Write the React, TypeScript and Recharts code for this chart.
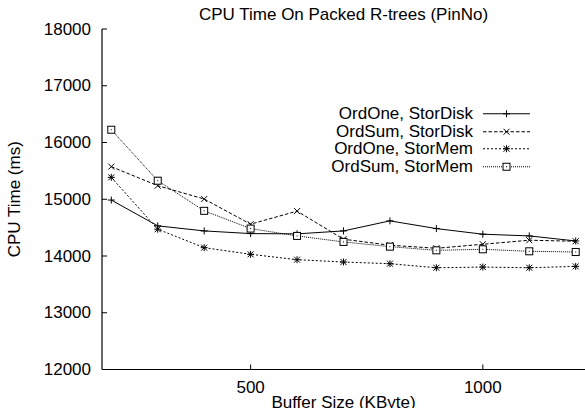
import React from 'react';
import { LineChart, Line, XAxis, YAxis, Legend } from 'recharts';

const bufferSizes = [200, 300, 400, 500, 600, 700, 800, 900, 1000, 1100, 1200];
const ordOneStorDisk = [14986, 14531, 14442, 14395, 14390, 14442, 14619, 14483, 14384, 14354, 14265];
const ordSumStorDisk = [15575, 15239, 15004, 14561, 14791, 14296, 14190, 14136, 14207, 14278, 14260];
const ordOneStorMem = [15386, 14472, 14147, 14030, 13935, 13894, 13864, 13793, 13805, 13793, 13817];
const ordSumStorMem = [16225, 15327, 14796, 14483, 14354, 14248, 14165, 14100, 14118, 14083, 14071];

const xTicks = [500, 1000];
const yTicks = [12000, 13000, 14000, 15000, 16000, 17000, 18000];
const seriesNames = ['OrdOne, StorDisk', 'OrdSum, StorDisk', 'OrdOne, StorMem', 'OrdSum, StorMem'];
const title = 'CPU Time On Packed R-trees (PinNo)';
const xLabel = 'Buffer Size (KByte)';
const yLabel = 'CPU Time (ms)';

const data = bufferSizes.map((b, i) => ({
  b,
  s0: ordOneStorDisk[i],
  s1: ordSumStorDisk[i],
  s2: ordOneStorMem[i],
  s3: ordSumStorMem[i],
}));

const FONT = '"Liberation Sans", Arial, sans-serif';
const FS = 17;
const INK = '#000';

type MarkerKind = 'plus' | 'cross' | 'star' | 'square';
const markers: MarkerKind[] = ['plus', 'cross', 'star', 'square'];
const dashes = [undefined, '3.5 2', '2 2', '1 1'];
const keys = ['s0', 's1', 's2', 's3'];

function Marker({ cx, cy, kind }: { cx: number; cy: number; kind: MarkerKind }) {
  if (cx == null || cy == null) return null;
  const sw = 1;
  if (kind === 'plus') {
    return (
      <g stroke={INK} strokeWidth={sw}>
        <line x1={cx - 3.5} x2={cx + 3.5} y1={cy} y2={cy} />
        <line x1={cx} x2={cx} y1={cy - 3.5} y2={cy + 3.5} />
      </g>
    );
  }
  if (kind === 'cross') {
    return (
      <g stroke={INK} strokeWidth={sw}>
        <line x1={cx - 3} x2={cx + 3} y1={cy - 3} y2={cy + 3} />
        <line x1={cx - 3} x2={cx + 3} y1={cy + 3} y2={cy - 3} />
      </g>
    );
  }
  if (kind === 'star') {
    return (
      <g stroke={INK} strokeWidth={sw}>
        <line x1={cx - 3.5} x2={cx + 3.5} y1={cy} y2={cy} />
        <line x1={cx} x2={cx} y1={cy - 3.5} y2={cy + 3.5} />
        <line x1={cx - 3} x2={cx + 3} y1={cy - 3} y2={cy + 3} />
        <line x1={cx - 3} x2={cx + 3} y1={cy + 3} y2={cy - 3} />
      </g>
    );
  }
  return (
    <g stroke={INK} strokeWidth={sw}>
      <rect x={cx - 3.5} y={cy - 3.5} width={7} height={7} fill="#fff" />
      <rect x={cx - 0.5} y={cy - 0.5} width={1} height={1} fill={INK} stroke="none" />
    </g>
  );
}

const LeftTick = (props: any) => {
  const { x, y, payload } = props;
  return (
    <g>
      <line x1={x} x2={x + 5} y1={y} y2={y} stroke={INK} strokeWidth={1} />
      <text x={x - 11} y={y} textAnchor="end" dominantBaseline="central" fontSize={FS} fontFamily={FONT} fill={INK}>
        {payload.value}
      </text>
    </g>
  );
};
const RightTick = (props: any) => {
  const { x, y } = props;
  return <line x1={x - 5} x2={x} y1={y} y2={y} stroke={INK} strokeWidth={1} />;
};
const BottomTick = (props: any) => {
  const { x, y, payload } = props;
  return (
    <g>
      <line x1={x} x2={x} y1={y} y2={y - 5} stroke={INK} strokeWidth={1} />
      <text x={x} y={y + 17.5} textAnchor="middle" dominantBaseline="central" fontSize={FS} fontFamily={FONT} fill={INK}>
        {payload.value}
      </text>
    </g>
  );
};
const TopTick = (props: any) => {
  const { x, y } = props;
  return <line x1={x} x2={x} y1={y} y2={y + 5} stroke={INK} strokeWidth={1} />;
};

const LegendContent = () => (
  <div style={{ position: 'absolute', left: 0, top: 105, width: 585, fontFamily: FONT, fontSize: FS, color: INK }}>
    {seriesNames.map((name, i) => (
      <div key={name} style={{ display: 'flex', alignItems: 'center', height: 17.5 }}>
        <span style={{ width: 473, textAlign: 'right', lineHeight: '17.5px', whiteSpace: 'nowrap' }}>{name}</span>
        <svg width={50} height={17.5} style={{ marginLeft: 10, display: 'block' }}>
          <line x1={0} x2={47} y1={8.75} y2={8.75} stroke={INK} strokeWidth={1} strokeDasharray={dashes[i]} />
          <Marker cx={23.5} cy={8.75} kind={markers[i]} />
        </svg>
      </div>
    ))}
  </div>
);

export default function App() {
  return (
    <div style={{ position: 'absolute', left: 0, top: 0, width: 585, height: 408, background: '#fff', overflow: 'hidden' }}>
      <div
        style={{
          position: 'absolute',
          left: 102,
          width: 483,
          top: 5,
          textAlign: 'center',
          fontFamily: FONT,
          fontSize: FS,
          color: INK,
          lineHeight: '20px',
          whiteSpace: 'nowrap',
        }}
      >
        {title}
      </div>
      <LineChart width={585} height={408} data={data} margin={{ top: 29, right: 0, bottom: 0, left: 0 }}>
        <XAxis
          dataKey="b"
          type="number"
          domain={[180, 1220]}
          ticks={xTicks}
          allowDataOverflow
          height={38.5}
          tickSize={0}
          tickMargin={0}
          tickLine={false}
          axisLine={{ stroke: INK, strokeWidth: 1.2 }}
          tick={<BottomTick />}
          label={(p: any) => {
            const vb = p.viewBox;
            return (
              <text
                x={vb.x + vb.width / 2}
                y={vb.y + 33}
                textAnchor="middle"
                dominantBaseline="central"
                fontSize={FS}
                fontFamily={FONT}
                fill={INK}
              >
                {xLabel}
              </text>
            );
          }}
        />
        <XAxis
          xAxisId="top"
          orientation="top"
          dataKey="b"
          type="number"
          domain={[180, 1220]}
          ticks={xTicks}
          allowDataOverflow
          height={0}
          tickSize={0}
          tickMargin={0}
          tickLine={false}
          axisLine={{ stroke: INK, strokeWidth: 1.2 }}
          tick={<TopTick />}
        />
        <YAxis
          type="number"
          domain={[12000, 18000]}
          ticks={yTicks}
          allowDataOverflow
          width={102}
          tickSize={0}
          tickMargin={0}
          tickLine={false}
          axisLine={{ stroke: INK, strokeWidth: 1.2 }}
          tick={<LeftTick />}
          label={(p: any) => {
            const vb = p.viewBox;
            const cy = vb.y + vb.height / 2;
            return (
              <text
                x={14}
                y={cy}
                transform={`rotate(-90 14 ${cy})`}
                textAnchor="middle"
                dominantBaseline="central"
                fontSize={FS}
                fontFamily={FONT}
                fill={INK}
              >
                {yLabel}
              </text>
            );
          }}
        />
        <YAxis
          yAxisId="right"
          orientation="right"
          type="number"
          domain={[12000, 18000]}
          ticks={yTicks}
          allowDataOverflow
          width={0}
          tickSize={0}
          tickMargin={0}
          tickLine={false}
          axisLine={{ stroke: INK, strokeWidth: 1.2 }}
          tick={<RightTick />}
        />
        <Legend verticalAlign="middle" align="center" layout="horizontal" content={<LegendContent />} wrapperStyle={{ position: 'absolute', left: 0, top: 0, width: 585, height: 0 }} />
        {keys.map((k, i) => (
          <Line
            key={k}
            dataKey={k}
            name={seriesNames[i]}
            type="linear"
            stroke={INK}
            strokeWidth={1}
            strokeDasharray={dashes[i]}
            isAnimationActive={false}
            dot={(p: any) => <Marker key={`${k}-${p.index}`} cx={p.cx} cy={p.cy} kind={markers[i]} />}
            activeDot={false}
          />
        ))}
      </LineChart>
    </div>
  );
}
